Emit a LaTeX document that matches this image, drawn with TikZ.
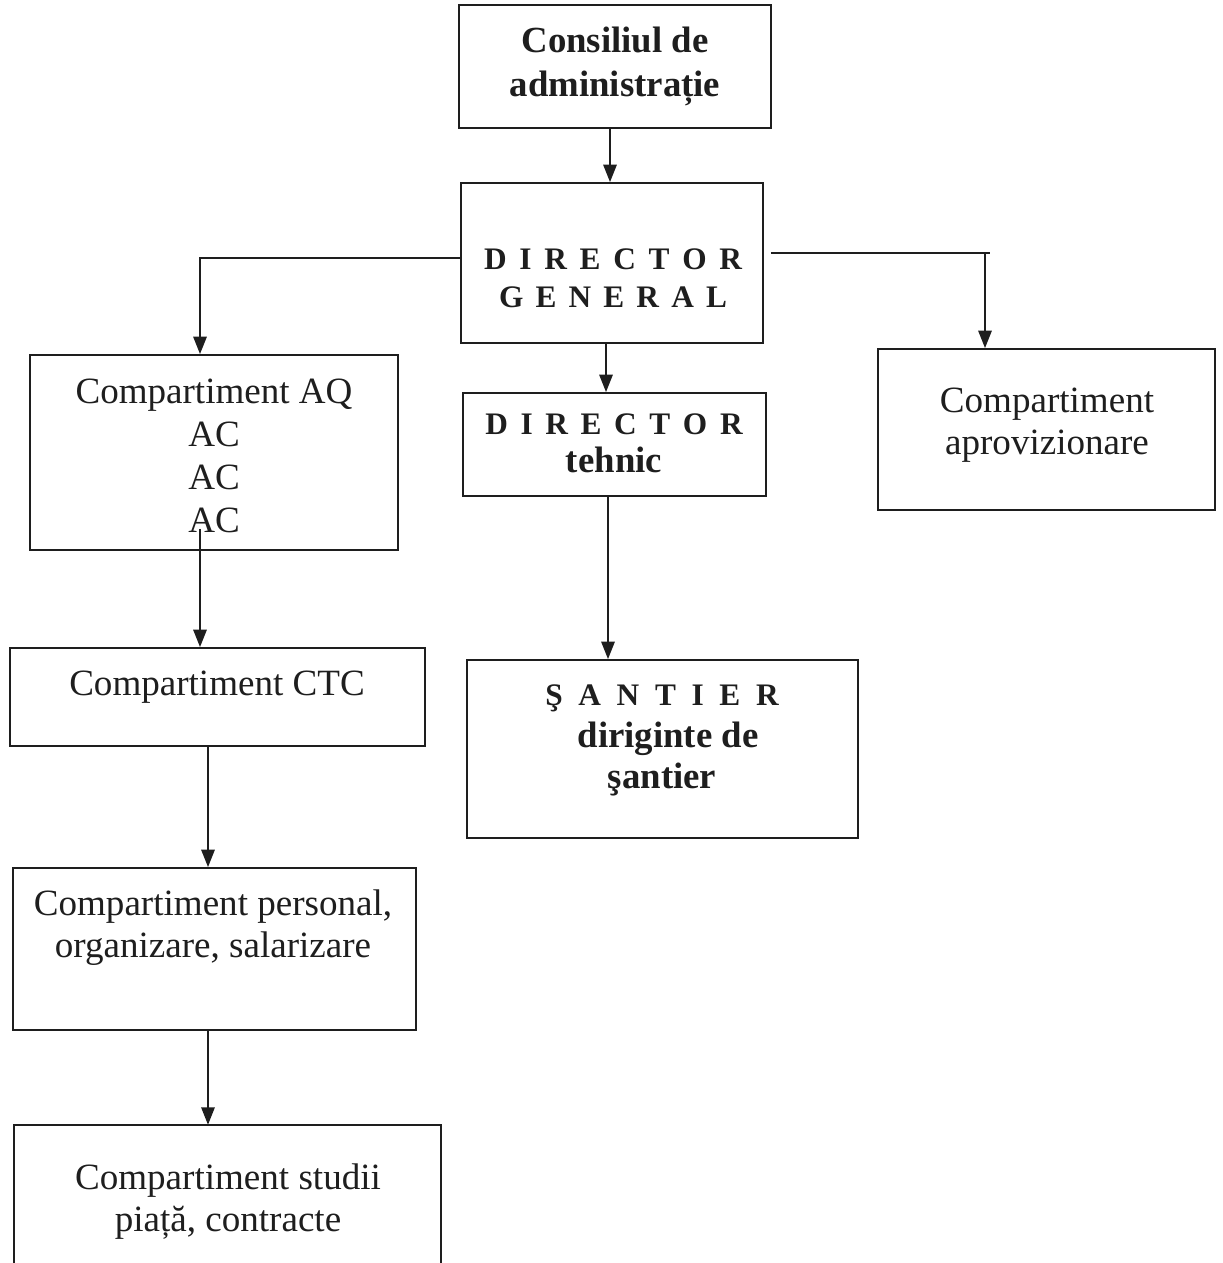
\documentclass[tikz,border=0pt]{standalone}
\usepackage{fontspec}
\setmainfont{Liberation Serif}
\usetikzlibrary{arrows.meta,calc}
\definecolor{ink}{HTML}{1E1E1E}
\begin{document}
\begin{tikzpicture}[x=0.75pt,y=-0.75pt,
  boxst/.style={draw=ink, line width=1.4pt, inner sep=0pt},
  frame/.style={inner sep=0pt},
  arr/.style={draw=ink, line width=1.3pt, -{Triangle[length=13pt,width=10pt]}},
  conn/.style={draw=ink, line width=1.4pt},
  reg/.style={text=ink, anchor=base, inner sep=0pt, font=\fontsize{27.8}{32}\selectfont},
  bld/.style={text=ink, anchor=base, inner sep=0pt, font=\fontsize{27.6}{32}\selectfont\bfseries},
  caps/.style={text=ink, anchor=base, inner sep=0pt, font=\fontsize{23.5}{26}\selectfont\bfseries},
]
\useasboundingbox (0,0) rectangle (1223,1263);
\fill[white] (0,0) rectangle (1223,1263);

% boxes
\node[boxst, minimum width=312*0.75pt, minimum height=123*0.75pt] (cons) at (615,66.5) {};
\node[boxst, minimum width=302*0.75pt, minimum height=160*0.75pt] (dg) at (612,263) {};
\node[boxst, minimum width=368*0.75pt, minimum height=195*0.75pt] (aq) at (214,452.5) {};
\node[boxst, minimum width=337*0.75pt, minimum height=161*0.75pt] (apro) at (1046.5,429.5) {};
\node[boxst, minimum width=303*0.75pt, minimum height=103*0.75pt] (dt) at (614.5,444.5) {};
\node[boxst, minimum width=415*0.75pt, minimum height=98*0.75pt] (ctc) at (217.5,697) {};
\node[boxst, minimum width=391*0.75pt, minimum height=178*0.75pt] (san) at (662.5,749) {};
\node[boxst, minimum width=403*0.75pt, minimum height=162*0.75pt] (pers) at (214.5,949) {};
\node[frame, minimum width=427*0.75pt, minimum height=140*0.75pt] (stud) at (227.5,1195) {};
\draw[conn] (stud.south west) -- (stud.north west) -- (stud.north east) -- (stud.south east);

% texts
\node[bld] (t1) at (615,53) {Consiliul de};
\node[bld] (t2) at (615,97) {administrație};
\node[caps] (t3) at (613,269) {\makebox[193.5pt][s]{D I R E C T O R}};
\node[caps] (t4) at (613,307) {\makebox[171pt][s]{G E N E R A L}};
\node[reg] (t5) at (214,403) {Compartiment AQ};
\node[reg] (t6) at (214,446) {AC};
\node[reg] (t7) at (214,489) {AC};
\node[reg] (t8) at (214,532) {AC};
\node[reg] (t9) at (1047,412) {Compartiment};
\node[reg] (t10) at (1047,454) {aprovizionare};
\node[caps] (t11) at (614,434) {\makebox[193pt][s]{D I R E C T O R}};
\node[bld] (t12) at (614,472) {tehnic};
\node[reg] (t13) at (217,695) {Compartiment CTC};
\node[caps] (t14) at (662,705) {\makebox[175pt][s]{Ş A N T I E R}};
\node[bld] (t15) at (668,747) {diriginte de};
\node[bld] (t16) at (662,788) {şantier};
\node[reg] (t17) at (213,915) {Compartiment personal,};
\node[reg] (t18) at (213,957) {organizare, salarizare};
\node[reg] (t19) at (228,1189) {Compartiment studii};
\node[reg] (t20) at (228,1231) {piață, contracte};

% connectors
\coordinate (c1) at ($(cons.south)+(-5,0)$);
\draw[arr] (c1) -- (c1 |- dg.north);
\coordinate (c2) at ($(dg.west)+(0,-5)$);
\coordinate (c3) at ($(aq.north)+(-14,0)$);
\draw[arr] (c2) -| (c3);
\coordinate (c4) at ($(dg.east)+(7,-10)$);
\coordinate (c5) at ($(apro.north)+(-61.5,0)$);
\coordinate (c4e) at ($(c5 |- c4)+(5,0)$);
\draw[conn] (c4) -- (c4e);
\draw[arr] (c5 |- c4) -- (c5);
\coordinate (c6) at ($(dg.south)+(-6,0)$);
\draw[arr] (c6) -- (c6 |- dt.north);
\coordinate (c7) at ($(dt.south)+(-6.5,0)$);
\draw[arr] (c7) -- (c7 |- san.north);
\coordinate (c8) at ($(aq.south)+(-14,-22)$);
\draw[arr] (c8) -- (c8 |- ctc.north);
\coordinate (c9) at ($(ctc.south)+(-9.5,0)$);
\draw[arr] (c9) -- (c9 |- pers.north);
\coordinate (c10) at ($(pers.south)+(-6.5,0)$);
\draw[arr] (c10) -- (c10 |- stud.north);
\end{tikzpicture}
\end{document}
